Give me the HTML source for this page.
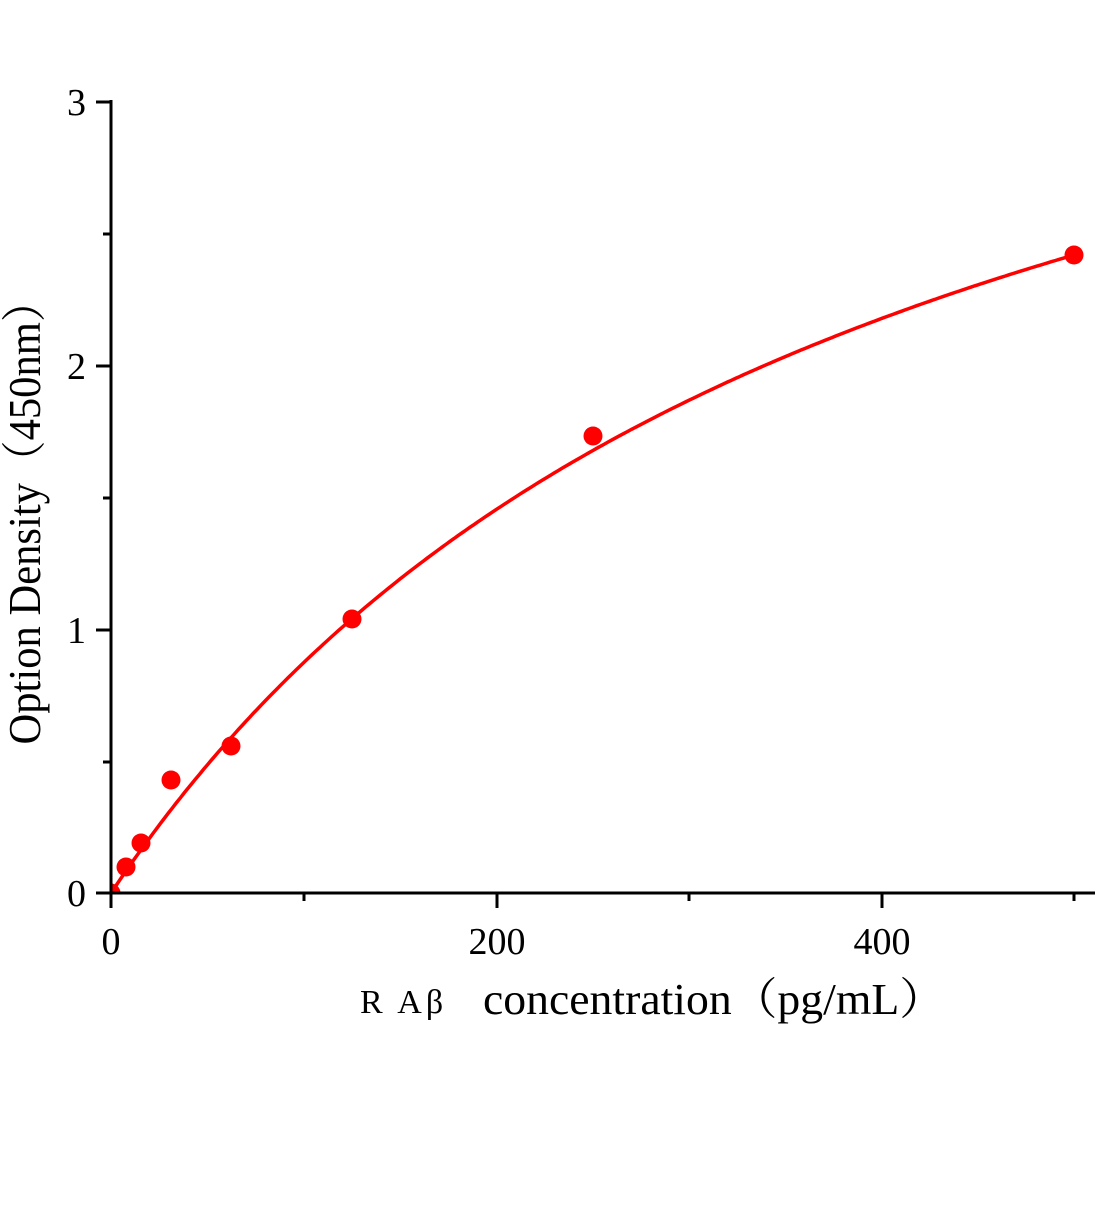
<!DOCTYPE html>
<html><head><meta charset="utf-8"><style>
html,body{margin:0;padding:0;background:#fff;}
svg text{font-family:"Liberation Serif","Noto Serif CJK SC",serif;fill:#000;}
</style></head><body>
<svg id="s" width="1104" height="1200" viewBox="0 0 1104 1200" xmlns="http://www.w3.org/2000/svg">
<defs><clipPath id="c"><rect x="111" y="60" width="1000" height="833"/></clipPath></defs>
<g clip-path="url(#c)">
<path id="curve" fill="none" stroke="#f00" stroke-width="3.5"/>
<g fill="#f00">
<circle cx="111" cy="893" r="9.5"/>
<circle cx="126" cy="867" r="9.5"/>
<circle cx="141" cy="843" r="9.5"/>
<circle cx="171" cy="780" r="9.5"/>
<circle cx="231" cy="746" r="9.5"/>
<circle cx="352" cy="619" r="9.5"/>
<circle cx="593" cy="436" r="9.5"/>
<circle cx="1074" cy="255" r="9.5"/>
</g>
</g>
<g stroke="#000" stroke-width="3" fill="none">
<line x1="111" y1="100" x2="111" y2="908"/>
<line x1="96" y1="893" x2="1095" y2="893"/>
<line x1="96" y1="102" x2="111" y2="102"/>
<line x1="96" y1="366" x2="111" y2="366"/>
<line x1="96" y1="630" x2="111" y2="630"/>
<line x1="103" y1="234" x2="111" y2="234"/>
<line x1="103" y1="498" x2="111" y2="498"/>
<line x1="103" y1="762" x2="111" y2="762"/>
<line x1="497" y1="893" x2="497" y2="908"/>
<line x1="882" y1="893" x2="882" y2="908"/>
<line x1="304" y1="893" x2="304" y2="901"/>
<line x1="689" y1="893" x2="689" y2="901"/>
<line x1="1074" y1="893" x2="1074" y2="901"/>
</g>
<g font-size="38" text-anchor="end">
<text x="86" y="906">0</text>
<text x="86" y="643">1</text>
<text x="86" y="379">2</text>
<text x="86" y="115">3</text>
</g>
<g font-size="38" text-anchor="middle">
<text x="111" y="954">0</text>
<text x="497" y="954">200</text>
<text x="882" y="954">400</text>
</g>
<text x="360" y="1013" font-size="34" letter-spacing="4">R Aβ</text>
<text x="483" y="1014" font-size="44" textLength="462" lengthAdjust="spacingAndGlyphs">concentration（pg/mL）</text>
<text transform="translate(40,512) rotate(-90)" text-anchor="middle" font-size="45" textLength="465" lengthAdjust="spacingAndGlyphs">Option Density（450nm）</text>
</svg>
<script>
var d="";for(var x=0;x<=500;x+=2){var y=4.34*x/(396.6+x);var px=111+x*1.9275,py=893-y*263.7;d+=(x?"L":"M")+px.toFixed(1)+" "+py.toFixed(1);}
document.getElementById("curve").setAttribute("d",d);
</script>
</body></html>
